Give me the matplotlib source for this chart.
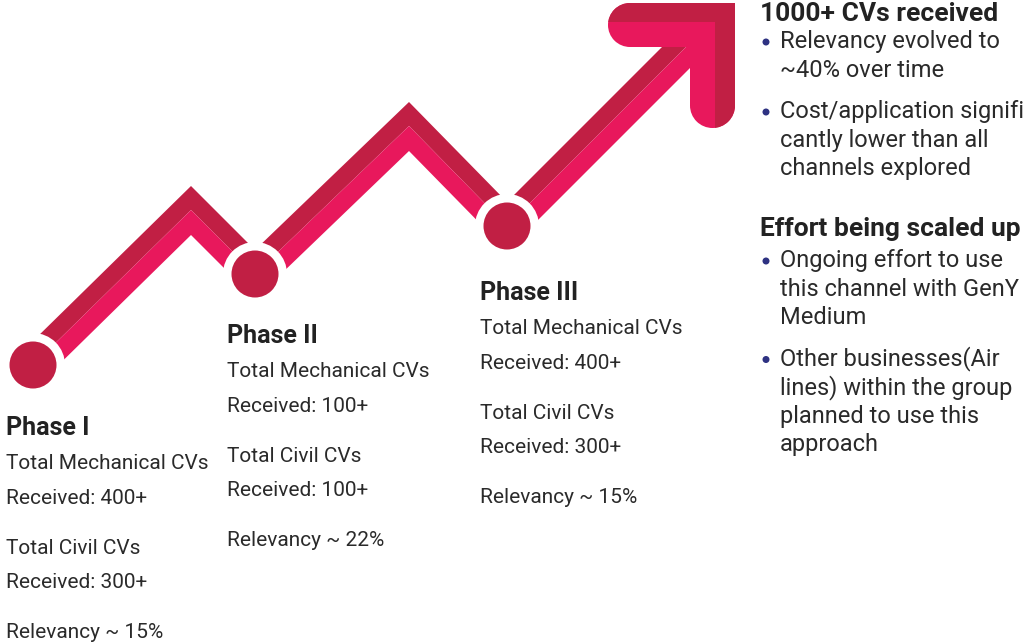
import matplotlib.pyplot as plt
from matplotlib.patches import Circle, Rectangle

plt.rcParams['font.family'] = ['Roboto', 'DejaVu Sans']

# zigzag centre line (pixel space, y down) and phase nodes
path_x = [33, 191, 255, 409, 507, 700]
path_y = [365, 210, 274, 126, 226, 33]
node_x = [33, 255, 507]
node_y = [365, 274, 226]

phase_titles = ['Phase I', 'Phase II', 'Phase III']
phase_lines = [
    ['Total Mechanical CVs', 'Received: 400+', 'Total Civil CVs', 'Received: 300+', 'Relevancy ~ 15%'],
    ['Total Mechanical CVs', 'Received: 100+', 'Total Civil CVs', 'Received: 100+', 'Relevancy ~ 22%'],
    ['Total Mechanical CVs', 'Received: 400+', 'Total Civil CVs', 'Received: 300+', 'Relevancy ~ 15%'],
]
phase_x = [6, 227, 480]
phase_y = [435, 343, 300]

head1 = '1000+ CVs received'
bullets1 = [['Relevancy evolved to', '~40% over time'],
            ['Cost/application signifi', 'cantly lower than all', 'channels explored']]
head2 = 'Effort being scaled up'
bullets2 = [['Ongoing effort to use', 'this channel with GenY', 'Medium'],
            ['Other businesses(Air', 'lines) within the group', 'planned to use this', 'approach']]

DARK = '#C11F44'
PINK = '#E8185C'
TXT = '#2A2A2A'
NAVY = '#2E3282'

fig = plt.figure(figsize=(10.24, 6.44), dpi=100)
ax = fig.add_axes([0, 0, 1, 1])
ax.set_xlim(0, 1024)
ax.set_ylim(644, 0)
ax.axis('off')

# band: dark upper stripe, pink lower stripe
ax.fill(path_x + path_x[::-1], path_y + [y - 24 for y in path_y[::-1]], color=DARK, lw=0)
ax.fill(path_x + path_x[::-1], path_y + [y + 25 for y in path_y[::-1]], color=PINK, lw=0)

# arrow head (L shape with rounded ends)
for p in [Rectangle((630, 3), 105, 44), Circle((630, 25), 22),
          Rectangle((690, 3), 45, 102.5), Circle((712.5, 105.5), 22.5)]:
    p.set_color(PINK)
    p.set_linewidth(0)
    ax.add_patch(p)

ax.add_patch(Rectangle((630, 3), 105, 19, color=DARK, lw=0))
ax.add_patch(Rectangle((715, 3), 20, 102.5, color=DARK, lw=0))
c1 = Circle((630, 25), 22, color=DARK, lw=0)
ax.add_patch(c1)
clip1 = Rectangle((600, 0), 40, 22, transform=ax.transData)
c1.set_clip_path(clip1)
c2 = Circle((712.5, 105.5), 22.5, color=DARK, lw=0)
ax.add_patch(c2)
clip2 = Rectangle((715, 90), 25, 50, transform=ax.transData)
c2.set_clip_path(clip2)

# phase nodes
for x, y in zip(node_x, node_y):
    ax.add_patch(Circle((x, y), 32, color='white', lw=0, zorder=3))
    ax.add_patch(Circle((x, y), 23.5, color=DARK, lw=0, zorder=4))

# phase text blocks
offsets = [0, 35, 85, 119, 169]
for t, lines, x, y in zip(phase_titles, phase_lines, phase_x, phase_y):
    ax.text(x, y, t, fontsize=18, fontweight='bold', color='#222222', va='baseline')
    for off, s in zip(offsets, lines):
        ax.text(x, y + 34 + off, s, fontsize=15, color=TXT, va='baseline')


def bullet_block(head, bullets, y_head, y_first):
    ax.text(760, y_head, head, fontsize=19, fontweight='bold', color='#222222', va='baseline')
    y = y_first
    for b in bullets:
        ax.add_patch(Circle((766, y - 6), 3.5, color=NAVY, lw=0))
        for s in b:
            ax.text(780, y, s, fontsize=17, color=TXT, va='baseline')
            y += 28.5
        y += 13


bullet_block(head1, bullets1, 21, 48)
bullet_block(head2, bullets2, 236, 267)

fig.savefig('out.png', dpi=100)
